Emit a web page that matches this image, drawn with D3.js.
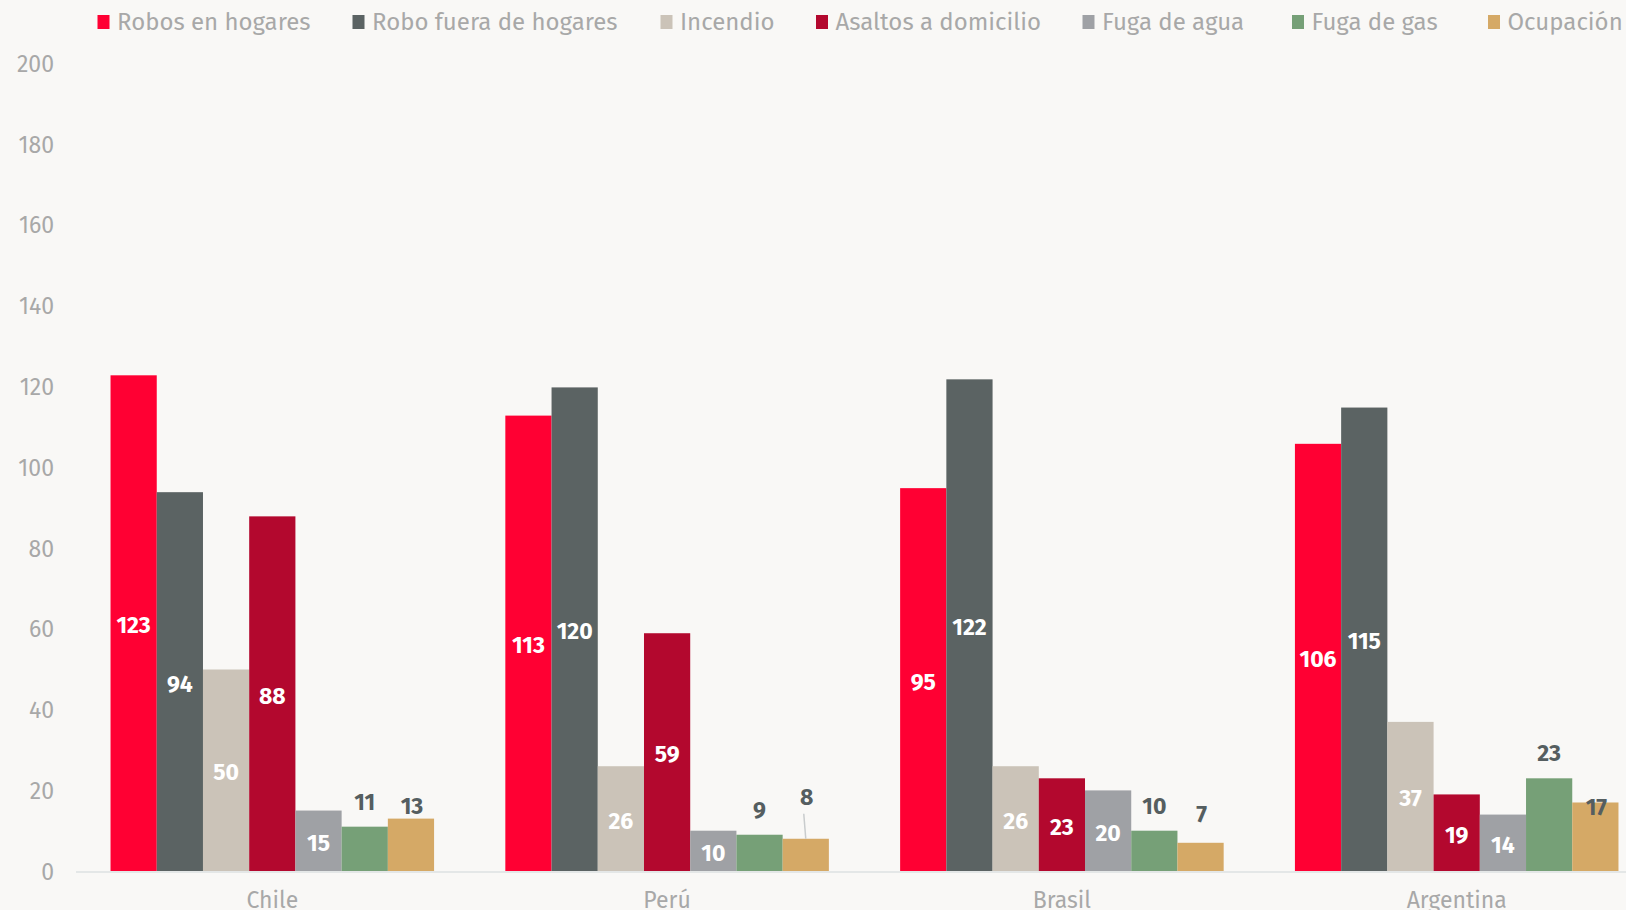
<!DOCTYPE html>
<html>
<head>
<meta charset="utf-8">
<script src="https://cdn.jsdelivr.net/npm/d3@7"></script>
<style>
  body { margin: 0; background: #f9f8f6; }
  svg { display: block; }
</style>
</head>
<body>
<svg id="chart" width="1626" height="910"></svg>
<script>
// data
const categories = ["Chile", "Perú", "Brasil", "Argentina"];
const seriesNames = ["Robos en hogares", "Robo fuera de hogares", "Incendio", "Asaltos a domicilio", "Fuga de agua", "Fuga de gas", "Ocupación"];
const robosHogares = [123, 113, 95, 106];
const roboFuera = [94, 120, 122, 115];
const incendio = [50, 26, 26, 37];
const asaltos = [88, 59, 23, 19];
const fugaAgua = [15, 10, 20, 14];
const fugaGas = [11, 9, 10, 23];
const ocupacion = [13, 8, 7, 17];
const yTicks = [0, 20, 40, 60, 80, 100, 120, 140, 160, 180, 200];

const colors = ["#ff0033", "#5b6363", "#cbc3b8", "#b3082e", "#9fa1a5", "#76a077", "#d5a966"];
const values = [robosHogares, roboFuera, incendio, asaltos, fugaAgua, fugaGas, ocupacion];

// legend swatch positions (layout)
const legendX = [97.5, 352.5, 660.5, 816, 1082.5, 1292, 1488];

// last two series put their labels above the bar; small lifts to dodge like the original
const outsideLift = {
  "Fuga de gas": [25, 25, 25, 25],
  "Ocupación": [13, 42, 29, -4]
};

const font = "'Fira Sans', Lato, 'Noto Sans', sans-serif";
const svg = d3.select("#chart");

const x0 = d3.scaleBand()
  .domain(categories)
  .range([75, 1654])
  .paddingInner(0.1805)
  .paddingOuter(0.09);

const x1 = d3.scaleBand()
  .domain(seriesNames)
  .range([0, x0.bandwidth()]);

const y = d3.scaleLinear()
  .domain([0, 200])
  .range([871, 65]);

// y axis labels only
const yAxis = svg.append("g")
  .attr("transform", "translate(54,0)")
  .call(d3.axisLeft(y).tickValues(yTicks).tickSize(0).tickPadding(0));
yAxis.select(".domain").remove();
yAxis.selectAll("text")
  .attr("fill", "#a8a8a8")
  .attr("y", d => 1 - d / 100)
  .style("font-family", font)
  .style("font-size", "23px");

// baseline
svg.append("line")
  .attr("x1", 76).attr("x2", 1626)
  .attr("y1", y(0) + 1).attr("y2", y(0) + 1)
  .attr("stroke", "#e4e7e7")
  .attr("stroke-width", 2);

// rows for bars
var rows = [];
for (var s = 0; s < seriesNames.length; s++) {
  for (var c = 0; c < categories.length; c++) {
    rows.push({ s: seriesNames[s], si: s, c: categories[c], ci: c, v: values[s][c] });
  }
}

const g = svg.append("g");

g.selectAll("rect")
  .data(rows)
  .enter()
  .append("rect")
  .attr("x", d => x0(d.c) + x1(d.s))
  .attr("y", d => y(d.v))
  .attr("width", x1.bandwidth())
  .attr("height", d => y(0) - y(d.v))
  .attr("fill", d => colors[d.si]);

// value labels
rows.forEach(function (d) {
  var cx = x0(d.c) + x1(d.s) + x1.bandwidth() / 2;
  var top = y(d.v);
  var inside = !(d.s in outsideLift);
  var ly, fill;
  if (inside) {
    ly = (top + y(0)) / 2 + 2;
    fill = "#ffffff";
  } else {
    var lift = outsideLift[d.s][d.ci];
    ly = top - lift;
    fill = "#555e60";
    if (lift > 35) {
      g.append("line")
        .attr("x1", cx).attr("y1", top)
        .attr("x2", cx - 2).attr("y2", ly + 17)
        .attr("stroke", "#c9cccd")
        .attr("stroke-width", 1.5);
    }
  }
  g.append("text")
    .attr("x", cx + (d.s === "Ocupación" ? 1 : 0))
    .attr("y", ly)
    .attr("dy", "0.35em")
    .attr("text-anchor", "middle")
    .attr("fill", fill)
    .style("font-family", font)
    .style("font-weight", "bold")
    .style("font-size", "23px")
    .text(d.v);
});

// category labels
svg.append("g").selectAll("text")
  .data(categories)
  .enter()
  .append("text")
  .attr("x", d => x0(d) + x0.bandwidth() / 2)
  .attr("y", 900)
  .attr("dy", "0.35em")
  .attr("text-anchor", "middle")
  .attr("fill", "#a8a8a8")
  .style("font-family", font)
  .style("font-size", "23px")
  .text(d => d);

// legend
const legend = svg.append("g");
seriesNames.forEach(function (name, i) {
  legend.append("rect")
    .attr("x", legendX[i]).attr("y", 15)
    .attr("width", 12).attr("height", 14)
    .attr("fill", colors[i]);
  legend.append("text")
    .attr("x", legendX[i] + 19.5)
    .attr("y", 22)
    .attr("dy", "0.35em")
    .attr("fill", "#a8a8a8")
    .style("font-family", font)
    .style("font-size", "24px")
    .text(name);
});
</script>
</body>
</html>
